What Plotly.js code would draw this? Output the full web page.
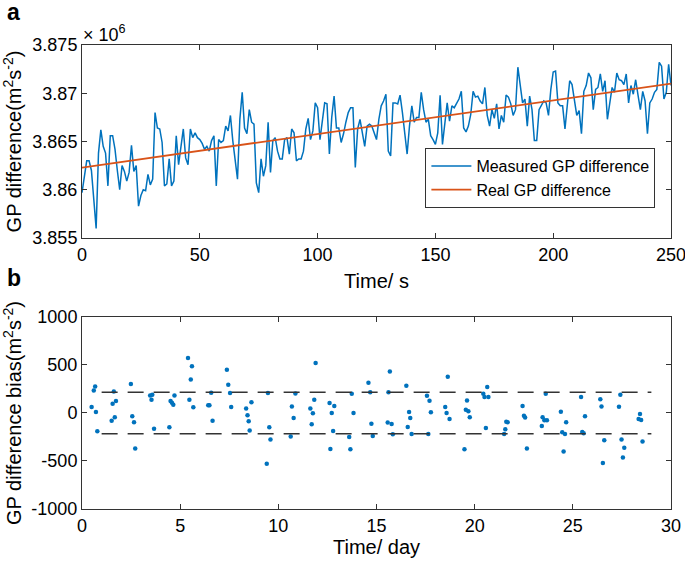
<!DOCTYPE html>
<html>
<head>
<meta charset="utf-8">
<script src="https://cdn.plot.ly/plotly-3.0.1.min.js"></script>
<style>
  body { margin: 0; background: #fff; }
  #plotArea { width: 685px; height: 561px; }
</style>
</head>
<body>
<div id="plotArea"></div>
<script>
// Panel a: measured vs real GP difference (values in units of 10^6 m^2 s^-2), one sample per second
var measuredGP = [
  3.8597, 3.8615, 3.8630, 3.8630, 3.8620, 3.8590, 3.8560, 3.8638, 3.8662, 3.8645,
  3.8638, 3.8604, 3.8656, 3.8656, 3.8642, 3.8620, 3.8600, 3.8625, 3.8619, 3.8609,
  3.8618, 3.8646, 3.8619, 3.8625, 3.8583, 3.8594, 3.8600, 3.8599, 3.8616, 3.8605,
  3.8611, 3.8680, 3.8664, 3.8663, 3.8649, 3.8604, 3.8606, 3.8632, 3.8604, 3.8609,
  3.8656, 3.8626, 3.8642, 3.8663, 3.8633, 3.8626, 3.8663, 3.8654, 3.8659, 3.8654,
  3.8652, 3.8648, 3.8642, 3.8645, 3.8640, 3.8651, 3.8656, 3.8604, 3.8652, 3.8649,
  3.8651, 3.8666, 3.8661, 3.8677, 3.8651, 3.8630, 3.8611, 3.8673, 3.8701, 3.8664,
  3.8658, 3.8683, 3.8670, 3.8668, 3.8607, 3.8597, 3.8632, 3.8614, 3.8625, 3.8670,
  3.8618, 3.8651, 3.8654, 3.8640, 3.8632, 3.8632, 3.8652, 3.8654, 3.8637, 3.8663,
  3.8659, 3.8630, 3.8632, 3.8632, 3.8640, 3.8663, 3.8674, 3.8652, 3.8661, 3.8690,
  3.8685, 3.8652, 3.8673, 3.8690, 3.8689, 3.8637, 3.8675, 3.8697, 3.8664, 3.8664,
  3.8649, 3.8658, 3.8670, 3.8680, 3.8685, 3.8685, 3.8623, 3.8663, 3.8673, 3.8658,
  3.8645, 3.8666, 3.8668, 3.8666, 3.8658, 3.8652, 3.8673, 3.8687, 3.8692, 3.8699,
  3.8640, 3.8635, 3.8690, 3.8690, 3.8689, 3.8698, 3.8680, 3.8656, 3.8637, 3.8666,
  3.8687, 3.8670, 3.8675, 3.8675, 3.8701, 3.8683, 3.8670, 3.8673, 3.8656, 3.8652,
  3.8647, 3.8659, 3.8698, 3.8647, 3.8670, 3.8690, 3.8671, 3.8687, 3.8685, 3.8690,
  3.8694, 3.8702, 3.8664, 3.8660, 3.8666, 3.8678, 3.8702, 3.8696, 3.8697, 3.8692,
  3.8689, 3.8706, 3.8677, 3.8666, 3.8683, 3.8674, 3.8689, 3.8663, 3.8677, 3.8670,
  3.8698, 3.8696, 3.8689, 3.8677, 3.8683, 3.8727, 3.8708, 3.8690, 3.8694, 3.8666,
  3.8697, 3.8683, 3.8651, 3.8651, 3.8683, 3.8687, 3.8692, 3.8690, 3.8677, 3.8704,
  3.8722, 3.8723, 3.8690, 3.8687, 3.8687, 3.8663, 3.8689, 3.8713, 3.8709, 3.8694,
  3.8677, 3.8682, 3.8658, 3.8702, 3.8708, 3.8721, 3.8716, 3.8683, 3.8704, 3.8706,
  3.8720, 3.8702, 3.8713, 3.8673, 3.8690, 3.8706, 3.8701, 3.8721, 3.8714, 3.8713,
  3.8709, 3.8720, 3.8690, 3.8708, 3.8699, 3.8714, 3.8698, 3.8683, 3.8702, 3.8692,
  3.8658, 3.8690, 3.8694, 3.8701, 3.8704, 3.8732, 3.8728, 3.8694, 3.8701, 3.8730,
  3.8708
];
var measuredTime = measuredGP.map((v, i) => i);   // sample index = seconds

var realTime = [0, 250];
var realGP = [3.8623, 3.8710];

// Panel b: GP difference bias (m^2 s^-2) against day
var biasDays = [
  0.49, 0.60, 0.67, 0.71, 0.78, 1.51, 1.56, 1.62, 1.67, 1.73,
  2.49, 2.56, 2.65, 2.71, 3.47, 3.54, 3.58, 3.67, 4.45, 4.51,
  4.58, 4.65, 4.71, 5.40, 5.47, 5.54, 5.60, 5.67, 6.43, 6.49,
  6.58, 6.65, 7.38, 7.45, 7.54, 7.60, 8.36, 8.43, 8.49, 8.54,
  8.63, 9.41, 9.47, 9.54, 9.60, 10.63, 10.69, 10.78, 10.87, 11.63,
  11.70, 11.76, 11.83, 11.90, 12.61, 12.65, 12.72, 12.79, 12.85, 13.61,
  13.67, 13.74, 13.83, 14.59, 14.68, 14.74, 14.81, 15.57, 15.61, 15.68,
  15.77, 15.83, 16.52, 16.59, 16.66, 16.72, 16.79, 17.57, 17.64, 17.70,
  17.77, 18.50, 18.57, 18.63, 18.72, 19.48, 19.55, 19.61, 19.68, 19.75,
  20.44, 20.50, 20.57, 20.64, 20.70, 21.50, 21.56, 21.61, 21.68, 22.44,
  22.51, 22.57, 22.66, 23.42, 23.46, 23.55, 23.62, 23.68, 24.39, 24.46,
  24.53, 24.60, 24.66, 25.42, 25.48, 25.55, 25.62, 26.40, 26.46, 26.53,
  26.60, 27.35, 27.42, 27.48, 27.55, 27.62, 28.35, 28.42, 28.48, 28.55
];
var biasValues = [
  62, 235, 277, 10, -190, -80, 97, 225, -45, 125,
  301, -35, -97, -370, 183, 138, 190, -163, -149, 125,
  107, 87, 183, 574, 138, 349, 488, 59, 80, 80,
  211, -80, 450, 294, 208, 62, 48, -24, -87, -183,
  111, -529, 208, -149, -277, -246, 69, -52, 204, 48,
  -118, -3, 138, 522, 104, -374, 0, -187, 73, -249,
  -377, 201, 0, 315, 215, -111, -239, -100, 215, 432,
  -114, -221, 284, -145, 10, -52, -218, 180, -218, 128,
  7, 62, 0, 377, -62, -377, 35, 131, 17, -45,
  201, 166, -156, 270, 166, -218, -170, -90, -97, 73,
  -28, -48, -370, -135, -45, -76, 201, -76, 14, -201,
  -401, -218, -97, 166, -197, -211, -35, 142, 69, -522,
  -284, 66, 190, -277, -464, -363, -62, -10, -73, -298
];

var boundDays = [1, 29];
var upperBound = [217, 217];
var lowerBound = [-217, -217];

var yTicksA = [3.855, 3.86, 3.865, 3.87, 3.875];
var yTicksB = [-1000, -500, 0, 500, 1000];
var yLabelsB = ["-1000", "-500", "0", "500", "1000"];

var blue = "#0072BD";
var orange = "#D95319";
var frame = "#333333";

var traces = [
  {x: measuredTime, y: measuredGP, type: "scatter", mode: "lines", name: "Measured GP difference",
   line: {color: blue, width: 1.5}, xaxis: "x", yaxis: "y"},
  {x: realTime, y: realGP, type: "scatter", mode: "lines", name: "Real GP difference",
   line: {color: orange, width: 1.8}, xaxis: "x", yaxis: "y"},
  {x: biasDays, y: biasValues, type: "scatter", mode: "markers", showlegend: false,
   marker: {color: blue, size: 4.5}, xaxis: "x2", yaxis: "y2"},
  {x: boundDays, y: upperBound, type: "scatter", mode: "lines", showlegend: false,
   line: {color: frame, width: 1.5, dash: "16px,10px"}, xaxis: "x2", yaxis: "y2"},
  {x: boundDays, y: lowerBound, type: "scatter", mode: "lines", showlegend: false,
   line: {color: frame, width: 1.5, dash: "16px,10px"}, xaxis: "x2", yaxis: "y2"}
];

var axisStyle = {
  showline: true, linecolor: frame, linewidth: 1, mirror: "allticks",
  ticks: "inside", ticklen: 5, tickcolor: frame, showgrid: false, zeroline: false,
  ticklabeloverflow: "allow",
  tickfont: {size: 18, color: "#000"}
};

var layout = {
  width: 685, height: 561,
  margin: {l: 82, r: 14, t: 45, b: 52},
  paper_bgcolor: "#fff", plot_bgcolor: "#fff",
  font: {family: "Liberation Sans, Arial, sans-serif", color: "#000"},
  showlegend: true,
  legend: {x: 0.583, y: 0.778, xanchor: "left", yanchor: "top",
           bgcolor: "#fff", bordercolor: frame, borderwidth: 1,
           font: {size: 16}, itemwidth: 40, tracegroupgap: 0},
  xaxis: Object.assign({}, axisStyle, {domain: [0, 1], anchor: "y", range: [0, 250], dtick: 50,
           title: {text: "Time/ s", font: {size: 20}, standoff: 10}}),
  yaxis: Object.assign({}, axisStyle, {domain: [0.584, 1], anchor: "x", range: [3.855, 3.875],
           tickvals: yTicksA,
           title: {text: "GP difference(m<sup>2</sup>s<sup>-2</sup>)", font: {size: 20}, standoff: 6}}),
  xaxis2: Object.assign({}, axisStyle, {domain: [0, 1], anchor: "y2", range: [0, 30], dtick: 5,
           title: {text: "Time/ day", font: {size: 20}, standoff: 5}}),
  yaxis2: Object.assign({}, axisStyle, {domain: [0, 0.4138], anchor: "x2", range: [-1000, 1000],
           tickvals: yTicksB, ticktext: yLabelsB,
           title: {text: "GP difference bias(m<sup>2</sup>s<sup>-2</sup>)", font: {size: 20}, standoff: 6}}),
  annotations: [
    {text: "<b>a</b>", xref: "paper", yref: "paper", x: -0.116, y: 1.071, showarrow: false,
     font: {size: 23}, xanchor: "center", yanchor: "middle"},
    {text: "<b>b</b>", xref: "paper", yref: "paper", x: -0.116, y: 0.497, showarrow: false,
     font: {size: 23}, xanchor: "center", yanchor: "middle"},
    {text: "× 10<sup>6</sup>", xref: "paper", yref: "paper", x: -0.002, y: 0.996, showarrow: false,
     font: {size: 18}, xanchor: "left", yanchor: "bottom"}
  ]
};

Plotly.newPlot("plotArea", traces, layout, {displayModeBar: false, staticPlot: true});
</script>
</body>
</html>
